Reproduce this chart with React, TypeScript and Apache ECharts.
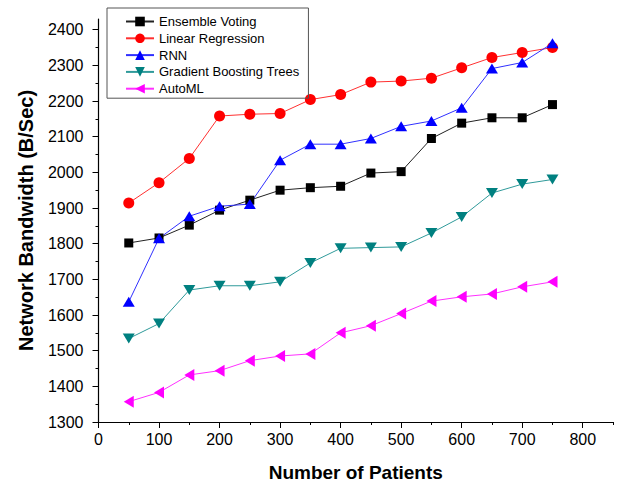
import React, { useEffect, useRef } from "react";
import * as echarts from "echarts";

const xValues = [50, 100, 150, 200, 250, 300, 350, 400, 450, 500, 550, 600, 650, 700, 750];
const ensembleVoting = [1802, 1816, 1852, 1894, 1922, 1950, 1957, 1961, 1998, 2002, 2095, 2138, 2153, 2153, 2190];
const linearRegression = [1914, 1971, 2039, 2158, 2163, 2165, 2204, 2218, 2253, 2256, 2264, 2293, 2322, 2336, 2350];
const rnn = [1637, 1815, 1877, 1905, 1911, 2034, 2079, 2079, 2095, 2129, 2144, 2181, 2291, 2308, 2362];
const gradientBoosting = [1534, 1576, 1670, 1682, 1682, 1693, 1746, 1787, 1789, 1791, 1830, 1875, 1942, 1967, 1980];
const autoML = [1357, 1383, 1432, 1444, 1472, 1485, 1491, 1550, 1570, 1604, 1639, 1651, 1659, 1679, 1693];

const xMajorTicks = [0, 100, 200, 300, 400, 500, 600, 700, 800];
const xMinorTicks = [0, 50, 100, 150, 200, 250, 300, 350, 400, 450, 500, 550, 600, 650, 700, 750, 800, 850];
const yMajorTicks = [1300, 1400, 1500, 1600, 1700, 1800, 1900, 2000, 2100, 2200, 2300, 2400];
const yMinorTicks = [1300, 1350, 1400, 1450, 1500, 1550, 1600, 1650, 1700, 1750, 1800, 1850, 1900, 1950, 2000, 2050, 2100, 2150, 2200, 2250, 2300, 2350, 2400];

const FONT = "'Liberation Sans', Arial, sans-serif";

export default function App() {
  const ref = useRef<HTMLDivElement>(null);
  useEffect(() => {
    if (!ref.current) return;
    const chart = echarts.init(ref.current, undefined, { renderer: "svg" });
    const pair = (vals: number[]) => xValues.map((x, i) => [x, vals[i]]);
    const mk = (name: string, vals: number[], color: string, lineColor: string, symbol: string, size: number | number[], rotate = 0) => ({
      name,
      type: "line",
      data: pair(vals),
      symbol,
      symbolSize: size,
      symbolRotate: rotate,
      showAllSymbol: true,
      lineStyle: { color: lineColor, width: 1 },
      itemStyle: { color, borderWidth: 0 },
      emphasis: { disabled: true },
      z: 3,
    });
    const axisLine = { show: true, lineStyle: { color: "#000", width: 1.2 } };
    const common = { min: 0, max: 850, interval: 50, splitLine: { show: false } };
    const plain = (v: number) => String(v);
    chart.setOption({
      animation: false,
      grid: { left: 98.5, right: 8, top: 19, bottom: 67, containLabel: false },
      legend: {
        orient: "vertical",
        left: 107,
        top: 8,
        width: 200,
        padding: [7, 9, 3, 18],
        borderColor: "#555",
        borderWidth: 1,
        itemWidth: 28,
        itemHeight: 12,
        itemGap: 3.8,
        textStyle: { fontFamily: FONT, fontSize: 13, color: "#000", padding: [0, 0, 0, 0] },
        data: ["Ensemble Voting", "Linear Regression", "RNN", "Gradient Boosting Trees", "AutoML"],
      },
      xAxis: [
        {
          type: "value",
          ...common,
          position: "bottom",
          axisLine,
          axisTick: { show: true, inside: false, length: 3, customValues: xMinorTicks, lineStyle: { color: "#000", width: 1 } },
          axisLabel: { show: true, customValues: xMajorTicks, formatter: plain, margin: 9, fontFamily: FONT, fontSize: 16, color: "#000" },
          name: "Number of Patients",
          nameLocation: "middle",
          nameGap: 41,
          nameTextStyle: { fontFamily: FONT, fontSize: 19, fontWeight: "bold", color: "#000" },
        },
        {
          type: "value",
          ...common,
          position: "bottom",
          axisLine: { show: false },
          axisTick: { show: true, inside: false, length: 6, customValues: xMajorTicks, lineStyle: { color: "#000", width: 1 } },
          axisLabel: { show: false },
        },
      ],
      yAxis: [
        {
          type: "value",
          min: 1300,
          max: 2430,
          interval: 50,
          position: "left",
          splitLine: { show: false },
          axisLine,
          axisTick: { show: true, inside: false, length: 3, customValues: yMinorTicks, lineStyle: { color: "#000", width: 1 } },
          axisLabel: { show: true, customValues: yMajorTicks, formatter: plain, margin: 15, fontFamily: FONT, fontSize: 16, color: "#000" },
          name: "Network Bandwidth (B/Sec)",
          nameLocation: "middle",
          nameGap: 63,
          nameTextStyle: { fontFamily: FONT, fontSize: 20, fontWeight: "bold", color: "#000" },
        },
        {
          type: "value",
          min: 1300,
          max: 2430,
          interval: 50,
          position: "left",
          splitLine: { show: false },
          axisLine: { show: false },
          axisTick: { show: true, inside: false, length: 6, customValues: yMajorTicks, lineStyle: { color: "#000", width: 1 } },
          axisLabel: { show: false },
        },
      ],
      series: [
        mk("Ensemble Voting", ensembleVoting, "#000000", "#222222", "rect", 9),
        mk("Linear Regression", linearRegression, "#ff0000", "#ff3030", "circle", 11),
        mk("RNN", rnn, "#0000ff", "#3030ff", "triangle", [12, 10]),
        mk("Gradient Boosting Trees", gradientBoosting, "#008080", "#2f9a9a", "triangle", [12, 10], 180),
        mk("AutoML", autoML, "#ff00ff", "#ff30ff", "triangle", [12, 10], 90),
      ],
    });
    return () => chart.dispose();
  }, []);
  return <div ref={ref} style={{ position: "fixed", left: 0, top: 0, width: 621, height: 489, background: "#fff" }} />;
}
